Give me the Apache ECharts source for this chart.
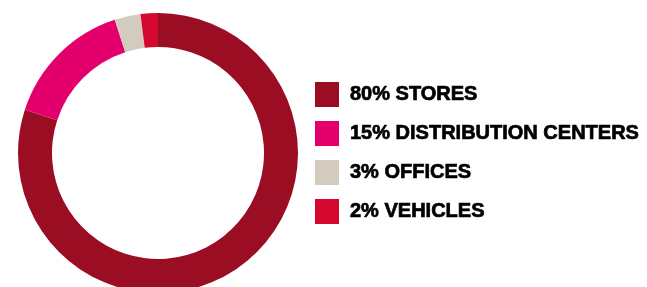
<!DOCTYPE html>
<html>
<head>
<meta charset="utf-8">
<script src="https://cdn.jsdelivr.net/npm/echarts@6/dist/echarts.min.js"></script>
<style>
html,body{margin:0;padding:0;background:#fff;}
#chart{width:647px;height:287px;}
</style>
</head>
<body>
<div id="chart"></div>
<script>
var names = ['STORES', 'DISTRIBUTION CENTERS', 'OFFICES', 'VEHICLES'];
var shares = [80, 15, 3, 2];
var colors = ['#9b0d23', '#e3006d', '#d3cbbd', '#d4072e'];

var pieData = [];
for (var i = 0; i < names.length; i++) {
    pieData.push({ name: names[i], value: shares[i], itemStyle: { color: colors[i] } });
}

var chart = echarts.init(document.getElementById('chart'));
chart.setOption({
    animation: false,
    legend: {
        orient: 'vertical',
        left: 310,
        top: 77,
        itemWidth: 24,
        itemHeight: 25,
        itemGap: 14,
        icon: 'rect',
        selectedMode: false,
        data: names,
        formatter: function (name) {
            return shares[names.indexOf(name)] + '% ' + name;
        },
        textStyle: {
            color: '#000',
            fontFamily: 'Liberation Sans',
            fontWeight: 'bold',
            fontSize: 20,
            textBorderColor: '#000',
            textBorderWidth: 0.7,
            padding: [0, 0, 0, 6]
        }
    },
    series: [
        {
            type: 'pie',
            center: [158, 153],
            radius: [106, 140],
            startAngle: 90,
            clockwise: true,
            silent: true,
            label: { show: false },
            labelLine: { show: false },
            data: pieData
        }
    ]
});
</script>
</body>
</html>
